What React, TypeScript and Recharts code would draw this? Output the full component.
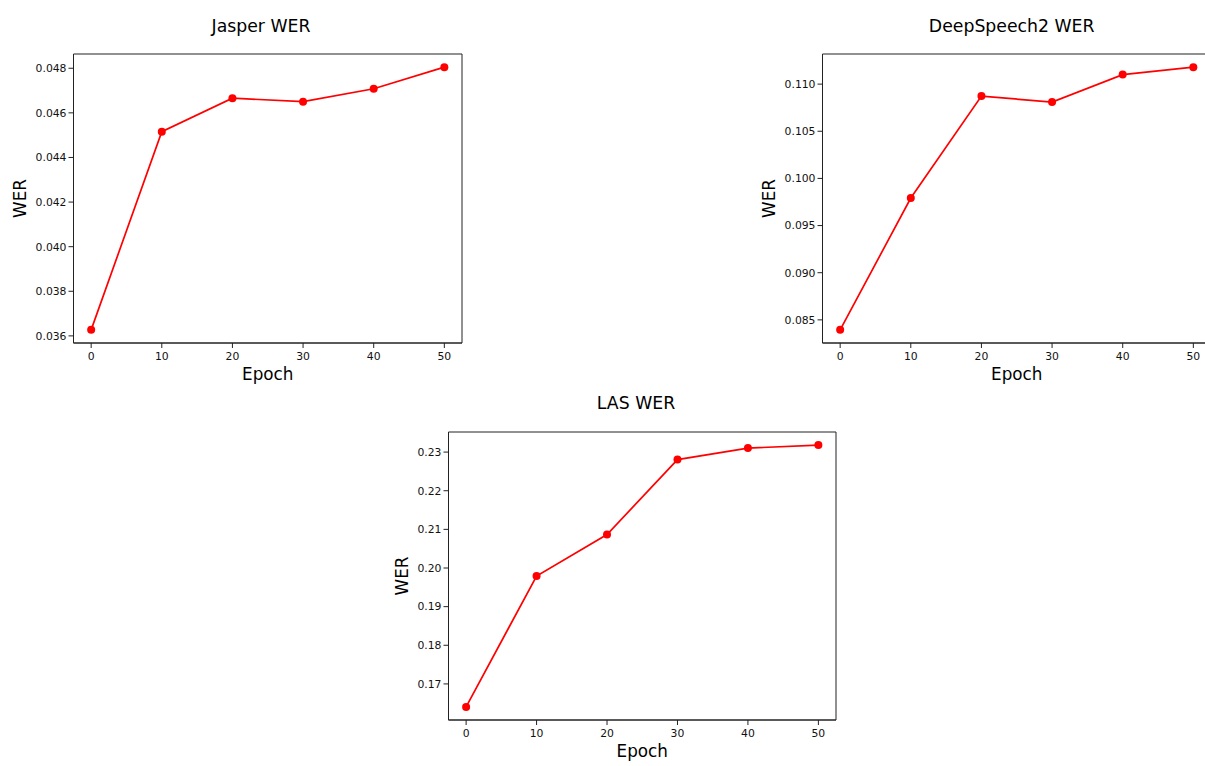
import { LineChart, Line, XAxis, YAxis, ReferenceArea } from "recharts";

const EPOCHS = [0, 10, 20, 30, 40, 50];
const EPOCH_TICKS = [0, 10, 20, 30, 40, 50];

const JASPER_WER = [0.03627, 0.045157, 0.046657, 0.0465, 0.04708, 0.04805];
const DEEPSPEECH2_WER = [0.08394, 0.09792, 0.10873, 0.10809, 0.11101, 0.1118];
const LAS_WER = [0.16405, 0.19793, 0.20866, 0.22806, 0.23103, 0.23181];

const JASPER_TICKS = [0.036, 0.038, 0.04, 0.042, 0.044, 0.046, 0.048];
const DEEPSPEECH2_TICKS = [0.085, 0.09, 0.095, 0.1, 0.105, 0.11];
const LAS_TICKS = [0.17, 0.18, 0.19, 0.2, 0.21, 0.22, 0.23];

const FONT = "'DejaVu Sans', sans-serif";
const X_DOMAIN: [number, number] = [-2.5, 52.5];

// matplotlib-style autoscale: 5% padding around the data
function padded(values: number[]): [number, number] {
  const lo = Math.min(...values);
  const hi = Math.max(...values);
  const pad = (hi - lo) * 0.05;
  return [lo - pad, hi + pad];
}

interface PanelProps {
  left: number;
  top: number;
  width: number;
  height: number;
  marginLeft: number;
  values: number[];
  ticks: number[];
  digits: number;
  yLabelOffset: number;
}

function Panel({ left, top, width, height, marginLeft, values, ticks, digits, yLabelOffset }: PanelProps) {
  const data = EPOCHS.map((epoch, i) => ({ epoch, wer: values[i] }));
  const yDomain = padded(values);
  const tickStyle = { fill: "#111", fontSize: 10.8, fontFamily: FONT };

  return (
    <div style={{ position: "absolute", left, top }}>
      <LineChart
        width={width}
        height={height}
        data={data}
        margin={{ top: 14, right: 18, bottom: 0, left: marginLeft }}
        style={{ fontFamily: FONT }}
      >
        <XAxis
          dataKey="epoch"
          type="number"
          domain={X_DOMAIN}
          ticks={EPOCH_TICKS}
          height={57}
          tickSize={5}
          tickMargin={4}
          tick={tickStyle}
          stroke="#000"
          axisLine={{ stroke: "#222", strokeWidth: 1 }}
          tickLine={{ stroke: "#222" }}
          label={{
            value: "Epoch",
            position: "insideBottom",
            offset: 20,
            style: { fontSize: 16.8, fill: "#000", fontFamily: FONT },
          }}
        />
        <YAxis
          type="number"
          domain={yDomain}
          ticks={ticks}
          width={73.5}
          tickSize={5}
          tickMargin={2}
          tick={tickStyle}
          tickFormatter={(v: number) => v.toFixed(digits)}
          stroke="#000"
          axisLine={{ stroke: "#222", strokeWidth: 1 }}
          tickLine={{ stroke: "#222" }}
          label={{
            value: "WER",
            angle: -90,
            position: "insideLeft",
            offset: yLabelOffset,
            textAnchor: "middle",
            style: { textAnchor: "middle", fontSize: 16.8, fill: "#000", fontFamily: FONT },
          }}
        />
        <ReferenceArea
          x1={X_DOMAIN[0]}
          x2={X_DOMAIN[1]}
          y1={yDomain[0]}
          y2={yDomain[1]}
          fill="none"
          stroke="#222"
          strokeWidth={1}
          ifOverflow="visible"
        />
        <Line
          type="linear"
          dataKey="wer"
          stroke="#ff0000"
          strokeWidth={1.7}
          dot={{ r: 4, fill: "#ff0000", stroke: "#ff0000", strokeWidth: 0 }}
          activeDot={false}
          isAnimationActive={false}
        />
      </LineChart>
    </div>
  );
}

export default function App() {
  return (
    <div
      style={{
        position: "absolute",
        left: 0,
        top: 0,
        width: 1205,
        height: 766,
        overflow: "hidden",
        background: "#fff",
        fontFamily: FONT,
      }}
    >
      <Panel left={0} top={40} width={480} height={360} marginLeft={0} values={JASPER_WER} ticks={JASPER_TICKS} digits={3} yLabelOffset={20.5} />
      <Panel left={740} top={40} width={489} height={360} marginLeft={9} values={DEEPSPEECH2_WER} ticks={DEEPSPEECH2_TICKS} digits={3} yLabelOffset={20} />
      <Panel left={375} top={418} width={479} height={359} marginLeft={0} values={LAS_WER} ticks={LAS_TICKS} digits={2} yLabelOffset={27.5} />
      <svg width={1205} height={766} style={{ position: "absolute", left: 0, top: 0, pointerEvents: "none" }}>
        <g fontFamily={FONT} fontSize={17.3} fill="#000" textAnchor="middle">
          <text x={261} y={32.3}>Jasper WER</text>
          <text x={1011.7} y={32.3}>DeepSpeech2 WER</text>
          <text x={636} y={409}>LAS WER</text>
        </g>
      </svg>
    </div>
  );
}
